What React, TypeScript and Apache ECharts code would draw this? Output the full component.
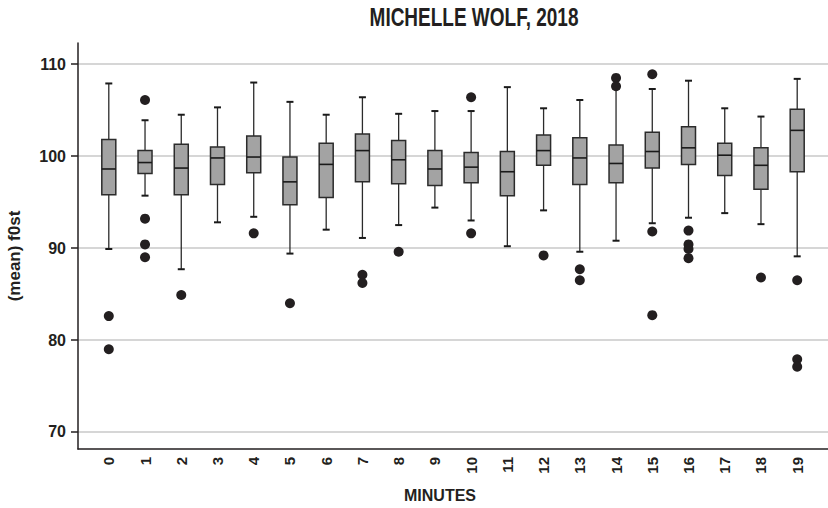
import React, { useEffect, useRef } from "react";
import * as echarts from "echarts";

// Minute index of each box
const minutes = [0, 1, 2, 3, 4, 5, 6, 7, 8, 9, 10, 11, 12, 13, 14, 15, 16, 17, 18, 19];

// Five-number summaries per minute: [lower whisker, Q1, median, Q3, upper whisker]
const summaries: number[][] = [
  [89.9, 95.8, 98.6, 101.8, 107.9],
  [95.7, 98.1, 99.3, 100.6, 103.9],
  [87.7, 95.8, 98.7, 101.3, 104.5],
  [92.8, 96.9, 99.8, 101.0, 105.3],
  [93.4, 98.2, 99.9, 102.2, 108.0],
  [89.4, 94.7, 97.2, 99.9, 105.9],
  [92.0, 95.5, 99.1, 101.4, 104.5],
  [91.1, 97.2, 100.6, 102.4, 106.4],
  [92.5, 97.0, 99.6, 101.7, 104.6],
  [94.4, 96.8, 98.6, 100.6, 104.9],
  [93.0, 97.1, 98.8, 100.4, 104.9],
  [90.2, 95.7, 98.3, 100.5, 107.5],
  [94.1, 99.0, 100.6, 102.3, 105.2],
  [89.6, 96.9, 99.8, 102.0, 106.1],
  [90.8, 97.1, 99.2, 101.2, 107.3],
  [92.7, 98.7, 100.5, 102.6, 107.3],
  [93.3, 99.1, 100.9, 103.2, 108.2],
  [93.8, 97.9, 100.1, 101.4, 105.2],
  [92.6, 96.4, 99.0, 100.9, 104.3],
  [89.1, 98.3, 102.8, 105.1, 108.4],
];

// Outlying observations: [minute, value]
const outliers: number[][] = [
  [0, 82.6], [0, 79.0],
  [1, 106.1], [1, 93.2], [1, 90.4], [1, 89.0],
  [2, 84.9],
  [4, 91.6],
  [5, 84.0],
  [7, 87.1], [7, 86.2],
  [8, 89.6],
  [10, 106.4], [10, 91.6],
  [12, 89.2],
  [13, 87.7], [13, 86.5],
  [14, 108.5], [14, 107.6],
  [15, 108.9], [15, 91.8], [15, 82.7],
  [16, 91.9], [16, 90.4], [16, 89.9], [16, 88.9],
  [18, 86.8],
  [19, 86.5], [19, 77.9], [19, 77.1],
];

const yTicks = [70, 80, 90, 100, 110];

const titleText = "MICHELLE WOLF, 2018";
const xName = "MINUTES";
const yName = "(mean) f0st";

const FONT = "Liberation Sans";
const INK = "#231f20";

export default function App() {
  const ref = useRef<HTMLDivElement | null>(null);

  useEffect(() => {
    if (!ref.current) return;
    const chart = echarts.init(ref.current, null, { renderer: "svg" });

    const boxData = minutes.map((m, i) => [m, ...summaries[i]]);

    const option: echarts.EChartsOption = {
      animation: false,
      backgroundColor: "#ffffff",
      grid: { left: 78, right: 0, top: 43, bottom: 59 },
      xAxis: {
        type: "value",
        min: -0.85,
        max: 19.85,
        axisLine: { show: true, onZero: false, lineStyle: { color: INK, width: 1.5 } },
        axisTick: { show: false },
        splitLine: { show: false },
        axisLabel: {
          customValues: minutes,
          rotate: 90,
          margin: 8,
          fontFamily: FONT,
          fontSize: 15,
          fontWeight: "bold",
          color: INK,
          formatter: (v: number) => String(v),
        },
      } as any,
      yAxis: {
        type: "value",
        min: 68.15,
        max: 112.3,
        axisLine: { show: true, onZero: false, lineStyle: { color: INK, width: 1.5 } },
        axisTick: {
          show: true,
          customValues: yTicks,
          length: 7,
          lineStyle: { color: INK, width: 1.5 },
        },
        splitLine: { show: true, lineStyle: { color: "#c9c9c9", width: 1.5 } },
        axisLabel: {
          customValues: yTicks,
          margin: 12,
          fontFamily: FONT,
          fontSize: 16,
          fontWeight: "bold",
          color: INK,
        },
      } as any,
      series: [
        {
          type: "custom",
          data: boxData,
          encode: { x: 0, y: [1, 2, 3, 4, 5] },
          renderItem: (params: any, api: any) => {
            const x = api.value(0);
            const lo = api.coord([x, api.value(1)]);
            const q1 = api.coord([x, api.value(2)]);
            const md = api.coord([x, api.value(3)]);
            const q3 = api.coord([x, api.value(4)]);
            const hi = api.coord([x, api.value(5)]);
            const cx = lo[0];
            const half = 7;
            const cap = 3.5;
            const whisker = { stroke: "#2b2b2b", lineWidth: 1.3 };
            const capStyle = { stroke: "#1a1a1a", lineWidth: 2 };
            return {
              type: "group",
              children: [
                { type: "line", shape: { x1: cx, y1: q1[1], x2: cx, y2: lo[1] }, style: whisker },
                { type: "line", shape: { x1: cx, y1: q3[1], x2: cx, y2: hi[1] }, style: whisker },
                { type: "line", shape: { x1: cx - cap, y1: lo[1], x2: cx + cap, y2: lo[1] }, style: capStyle },
                { type: "line", shape: { x1: cx - cap, y1: hi[1], x2: cx + cap, y2: hi[1] }, style: capStyle },
                {
                  type: "rect",
                  shape: { x: cx - half, y: q3[1], width: half * 2, height: q1[1] - q3[1] },
                  style: { fill: "#a3a3a3", stroke: "#2b2b2b", lineWidth: 1.5 },
                },
                {
                  type: "line",
                  shape: { x1: cx - half, y1: md[1], x2: cx + half, y2: md[1] },
                  style: { stroke: "#1a1a1a", lineWidth: 1.6 },
                },
              ],
            };
          },
          z: 2,
        },
        {
          type: "scatter",
          data: outliers,
          symbol: "circle",
          symbolSize: 10,
          itemStyle: { color: INK, opacity: 1 },
          z: 3,
        },
      ],
      graphic: [
        {
          type: "text",
          x: 474,
          y: 18,
          scaleX: 0.76,
          style: {
            text: titleText,
            font: `bold 25px "${FONT}"`,
            fill: INK,
            textAlign: "center",
            textVerticalAlign: "middle",
          },
        },
        {
          type: "text",
          x: 440,
          y: 495,
          style: {
            text: xName,
            font: `bold 16px "${FONT}"`,
            fill: INK,
            textAlign: "center",
            textVerticalAlign: "middle",
          },
        },
        {
          type: "text",
          x: 14,
          y: 256,
          rotation: Math.PI / 2,
          style: {
            text: yName,
            font: `bold 17px "${FONT}"`,
            fill: INK,
            textAlign: "center",
            textVerticalAlign: "middle",
          },
        },
      ],
    };

    chart.setOption(option);
    return () => chart.dispose();
  }, []);

  return (
    <div
      ref={ref}
      style={{ position: "fixed", left: 0, top: 0, width: 828, height: 508, background: "#fff" }}
    />
  );
}
